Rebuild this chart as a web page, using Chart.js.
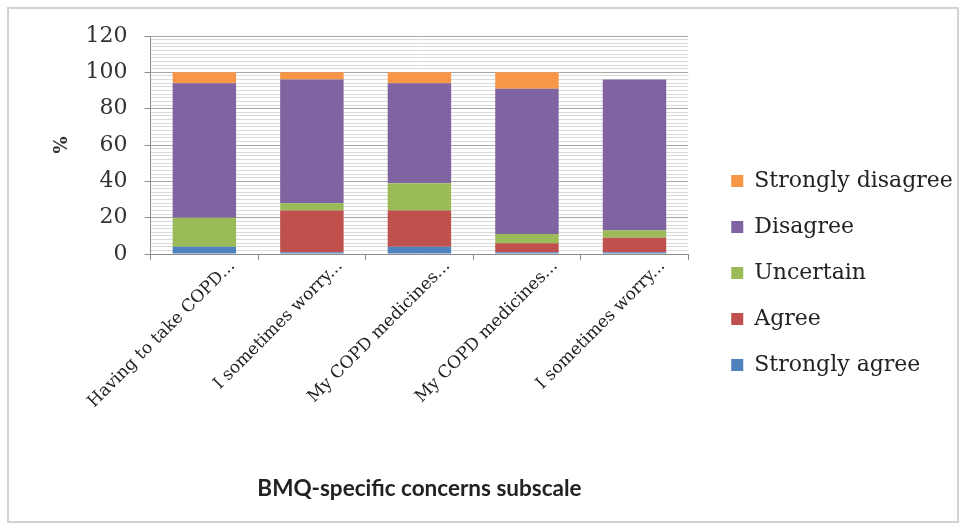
<!DOCTYPE html>
<html>
<head>
<meta charset="utf-8">
<script src="https://cdn.jsdelivr.net/npm/chart.js@4/dist/chart.umd.min.js"></script>
<style>
  html, body { margin: 0; padding: 0; background: #ffffff; }
  #wrap { position: relative; width: 965px; height: 528px; }
  #wrap canvas { position: absolute; left: 0; top: 0; }
  #frame { position: absolute; left: 7px; top: 7px; width: 948px; height: 512px;
           border: 2px solid #d2d2d2; pointer-events: none; }
</style>
</head>
<body>
<div id="wrap">
  <canvas id="chart" width="965" height="528"></canvas>
  <div id="frame"></div>
</div>
<script>
// BMQ-specific concerns subscale items (labels truncated as displayed)
const categories = [
  "Having to take COPD...",
  "I sometimes worry...",
  "My COPD medicines...",
  "My COPD medicines...",
  "I sometimes worry..."
];

// Percent of respondents per response option
const stronglyAgree    = [4, 1, 4, 1, 1];
const agree            = [0, 23, 20, 5, 8];
const uncertain        = [16, 4, 15, 5, 4];
const disagree         = [74, 68, 55, 80, 83];
const stronglyDisagree = [6, 4, 6, 9, 0];

const seriesNames = ["Strongly agree", "Agree", "Uncertain", "Disagree", "Strongly disagree"];
const seriesColors = ["#4F81BD", "#C0504D", "#9BBB59", "#8064A2", "#F79646"];

// y axis: labelled every 20, minor gridlines every 2
const yMin = 0, yMax = 120, yMajor = 20, yMinor = 2;

const serif = "'DejaVu Serif', serif";

// Moves the right-hand legend a little away from the plot area
const legendOffset = {
  id: "legendOffset",
  afterLayout(chart) {
    const lg = chart.legend;
    if (!lg) return;
    lg.left += 19;
    lg.right = chart.width;
    lg.width = lg.right - lg.left;
    lg.top += 20; lg.bottom += 20;
  }
};

new Chart(document.getElementById("chart"), {
  type: "bar",
  data: {
    labels: categories,
    datasets: [stronglyAgree, agree, uncertain, disagree, stronglyDisagree].map((vals, i) => ({
      label: seriesNames[i],
      data: vals,
      backgroundColor: seriesColors[i],
      borderWidth: 0,
      categoryPercentage: 0.59,
      barPercentage: 1
    }))
  },
  options: {
    responsive: false,
    animation: false,
    devicePixelRatio: 1,
    layout: { padding: { left: 47, top: 36, right: 63, bottom: 58 } },
    plugins: {
      legend: {
        position: "right",
        reverse: true,
        labels: {
          font: { family: serif, size: 22 },
          color: "#222222",
          boxWidth: 12,
          boxHeight: 12,
          padding: 24
        }
      },
      tooltip: { enabled: false }
    },
    scales: {
      x: {
        stacked: true,
        grid: { display: true, drawOnChartArea: false, offset: true, tickLength: 6, color: "#8c8c8c" },
        border: { color: "#8c8c8c" },
        ticks: {
          font: { family: serif, size: 17 },
          color: "#222222",
          minRotation: 45,
          maxRotation: 45,
          padding: -4,
          labelOffset: 28,
          autoSkip: false
        },
        title: {
          display: true,
          text: "BMQ-specific concerns subscale",
          font: { family: "Lato, sans-serif", size: 22.5, weight: "bold" },
          color: "#222222",
          padding: { top: 67, bottom: -32 }
        }
      },
      y: {
        stacked: true,
        min: yMin,
        max: yMax,
        border: { color: "#8c8c8c" },
        grid: {
          color: ctx => (ctx.tick && ctx.tick.value % yMajor === 0) ? "#a8a8a8" : "#dadada",
          tickColor: ctx => (ctx.tick && ctx.tick.value % yMajor === 0) ? "#8c8c8c" : "rgba(0,0,0,0)",
          tickLength: 6
        },
        ticks: {
          stepSize: yMinor,
          maxTicksLimit: 200,
          autoSkip: false,
          font: { family: serif, size: 22 },
          color: "#333333",
          padding: 17,
          callback: v => (v % yMajor === 0 ? String(v) : "")
        },
        title: {
          display: true,
          text: "%",
          font: { family: serif, size: 18, weight: "bold" },
          color: "#333333",
          padding: { top: 5, bottom: -5 }
        }
      }
    }
  },
  plugins: [legendOffset]
});
</script>
</body>
</html>
